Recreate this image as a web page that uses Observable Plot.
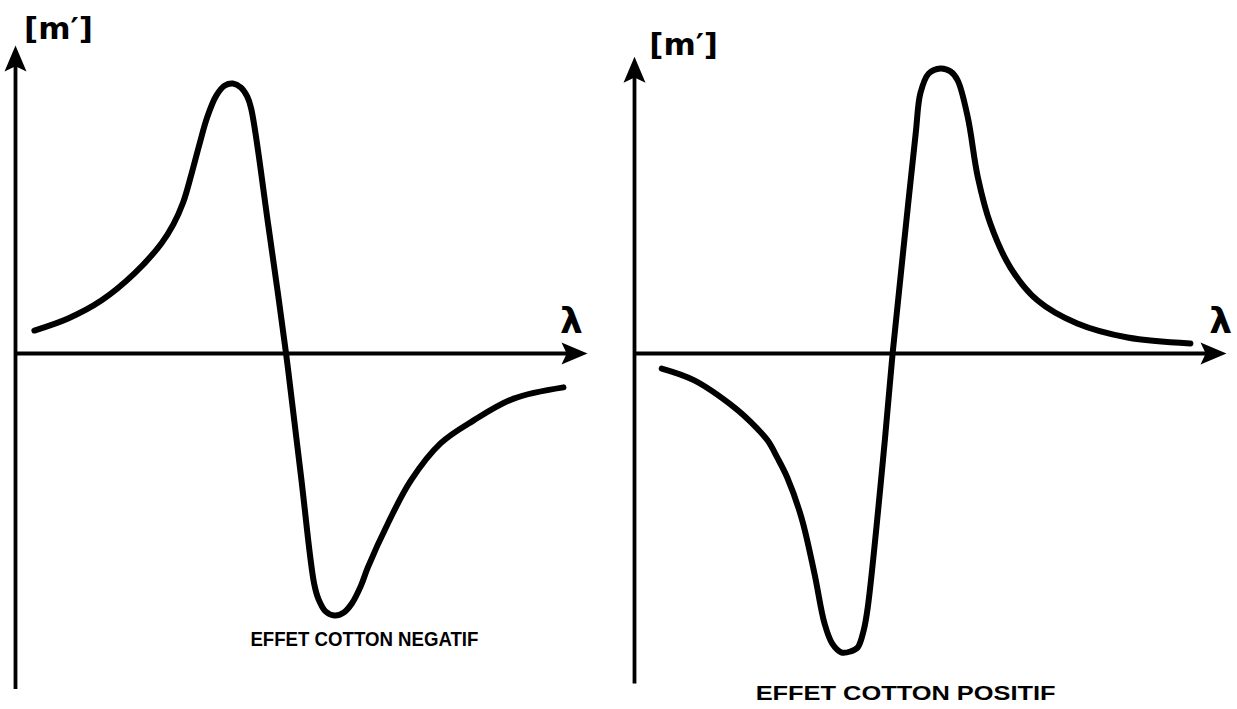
<!DOCTYPE html>
<html>
<head>
<meta charset="utf-8">
<script src="https://cdn.jsdelivr.net/npm/d3@7"></script>
<script src="https://cdn.jsdelivr.net/npm/@observablehq/plot@0.6"></script>
<style>
  html, body { margin: 0; padding: 0; background: #fff; }
  #chart { position: relative; width: 1237px; height: 709px; display: flex; }
  #chart svg { display: block; background: #fff; }
</style>
</head>
<body>
<div id="chart"></div>
<script>
// Negative Cotton effect: wavelength λ (arbitrary units) vs molar rotation [m′]
const lambdaNeg = [0.33, 0.92, 1.50, 2.08, 2.55, 2.76, 2.93, 3.07, 3.21, 3.35, 3.51, 3.66, 3.80, 3.94, 4.05, 4.12,
                   4.42, 4.73, 4.99, 5.22, 5.30, 5.42, 5.58, 5.74, 5.88, 6.04, 6.16, 6.51, 6.91, 7.43, 8.01, 8.71, 9.58];
const mNeg      = [0.082, 0.125, 0.189, 0.286, 0.393, 0.461, 0.539, 0.636, 0.743, 0.843, 0.921, 0.957, 0.964, 0.95, 0.918, 0.875,
                   0.457, 0, -0.436, -0.821, -0.879, -0.921, -0.936, -0.925, -0.893, -0.829, -0.764, -0.607, -0.454, -0.321, -0.239, -0.161, -0.121];

// Positive Cotton effect
const lambdaPos = [0.46, 1.01, 1.69, 1.97, 2.25, 2.41, 2.58, 2.82, 3.04, 3.21, 3.34, 3.50, 3.65, 3.77, 3.87, 3.94,
                   4.23, 4.36, 4.54, 4.75, 4.83, 4.97, 5.17, 5.34, 5.46, 5.63, 5.80, 6.01, 6.35, 6.81, 7.48, 8.33, 9.39];
const mPos      = [-0.054, -0.096, -0.193, -0.246, -0.311, -0.371, -0.443, -0.586, -0.786, -0.964, -1.036, -1.068, -1.064, -1.05, -0.99, -0.907,
                   -0.307, 0, 0.368, 0.786, 0.93, 1.0, 1.018, 1.007, 0.975, 0.843, 0.629, 0.464, 0.307, 0.189, 0.107, 0.057, 0.036];

const captions = ["EFFET COTTON NEGATIF", "EFFET COTTON POSITIF"];
const yLabel = "[m′]";
const xLabel = "λ";

// Filled dart-shaped arrowhead, tip at the origin, pointing up
const dart = {
  draw(context) {
    const L = 26, w = 22;
    context.moveTo(0, 0);
    context.lineTo(w / 2, L);
    context.lineTo(0, L * 0.8);
    context.lineTo(-w / 2, L);
    context.closePath();
  }
};

const K = 280;        // pixels per unit of [m′]
const ZERO_Y = 353;   // vertical position of the λ axis

function panel({lambda, m, width, marginLeft, marginRight, ymin, ymax, caption, capX, capY, capWidth, yLab, xLab}) {
  const data = lambda.map((l, i) => ({l, m: m[i]}));
  const marginTop = ZERO_Y - K * ymax;
  const marginBottom = 709 - (ZERO_Y - K * ymin);
  const svg = Plot.plot({
    width, height: 709,
    marginLeft, marginRight, marginTop, marginBottom,
    x: {domain: [0, 10], axis: null},
    y: {domain: [ymin, ymax], axis: null},
    marks: [
      // axes
      Plot.ruleX([0], {y1: ymin, y2: ymax - 0.05, stroke: "black", strokeWidth: 3.8}),
      Plot.ruleY([0], {x1: 0, x2: 9.7, stroke: "black", strokeWidth: 3.8}),
      Plot.dot([{x: 0, y: ymax}], {x: "x", y: "y", symbol: dart, r: 10, fill: "black", stroke: "none"}),
      Plot.dot([{x: 10, y: 0}], {x: "x", y: "y", symbol: dart, r: 10, fill: "black", stroke: "none", rotate: 90}),
      // the dispersion curve
      Plot.line(data, {x: "l", y: "m", curve: "catmull-rom", stroke: "black", strokeWidth: 6,
                       strokeLinecap: "round", strokeLinejoin: "round"}),
      // axis labels
      Plot.text([yLabel], {x: yLab[0], y: yLab[1], text: d => d, fontSize: 31, fontFamily: "DejaVu Sans",
                           fontWeight: "bold", fill: "black"}),
      Plot.text([xLabel], {x: xLab[0], y: xLab[1], text: d => d, fontSize: 36, fontFamily: "DejaVu Sans",
                           fontWeight: "bold", fill: "black"}),
      // caption
      Plot.text([caption], {x: capX, y: capY, text: d => d, fontSize: 21, fontFamily: "Liberation Sans",
                            fontWeight: "bold", fill: "black"})
    ]
  });
  // spread the caption letters over their printed width
  d3.select(svg).selectAll("text")
    .filter(function () { return this.textContent === caption; })
    .attr("textLength", capWidth)
    .attr("lengthAdjust", "spacingAndGlyphs");
  return svg;
}

const chart = document.getElementById("chart");
chart.append(panel({
  lambda: lambdaNeg, m: mNeg, width: 620, marginLeft: 15, marginRight: 33,
  ymin: -1.2, ymax: 1.1, caption: captions[0], capX: 6.1, capY: -1.02, capWidth: 228,
  yLab: [0.75, 1.16], xLab: [9.72, 0.114]
}));
chart.append(panel({
  lambda: lambdaPos, m: mPos, width: 617, marginLeft: 14, marginRight: 11,
  ymin: -1.18, ymax: 1.06, caption: captions[1], capX: 4.58, capY: -1.215, capWidth: 300,
  yLab: [0.83, 1.10], xLab: [9.9, 0.114]
}));
</script>
</body>
</html>
